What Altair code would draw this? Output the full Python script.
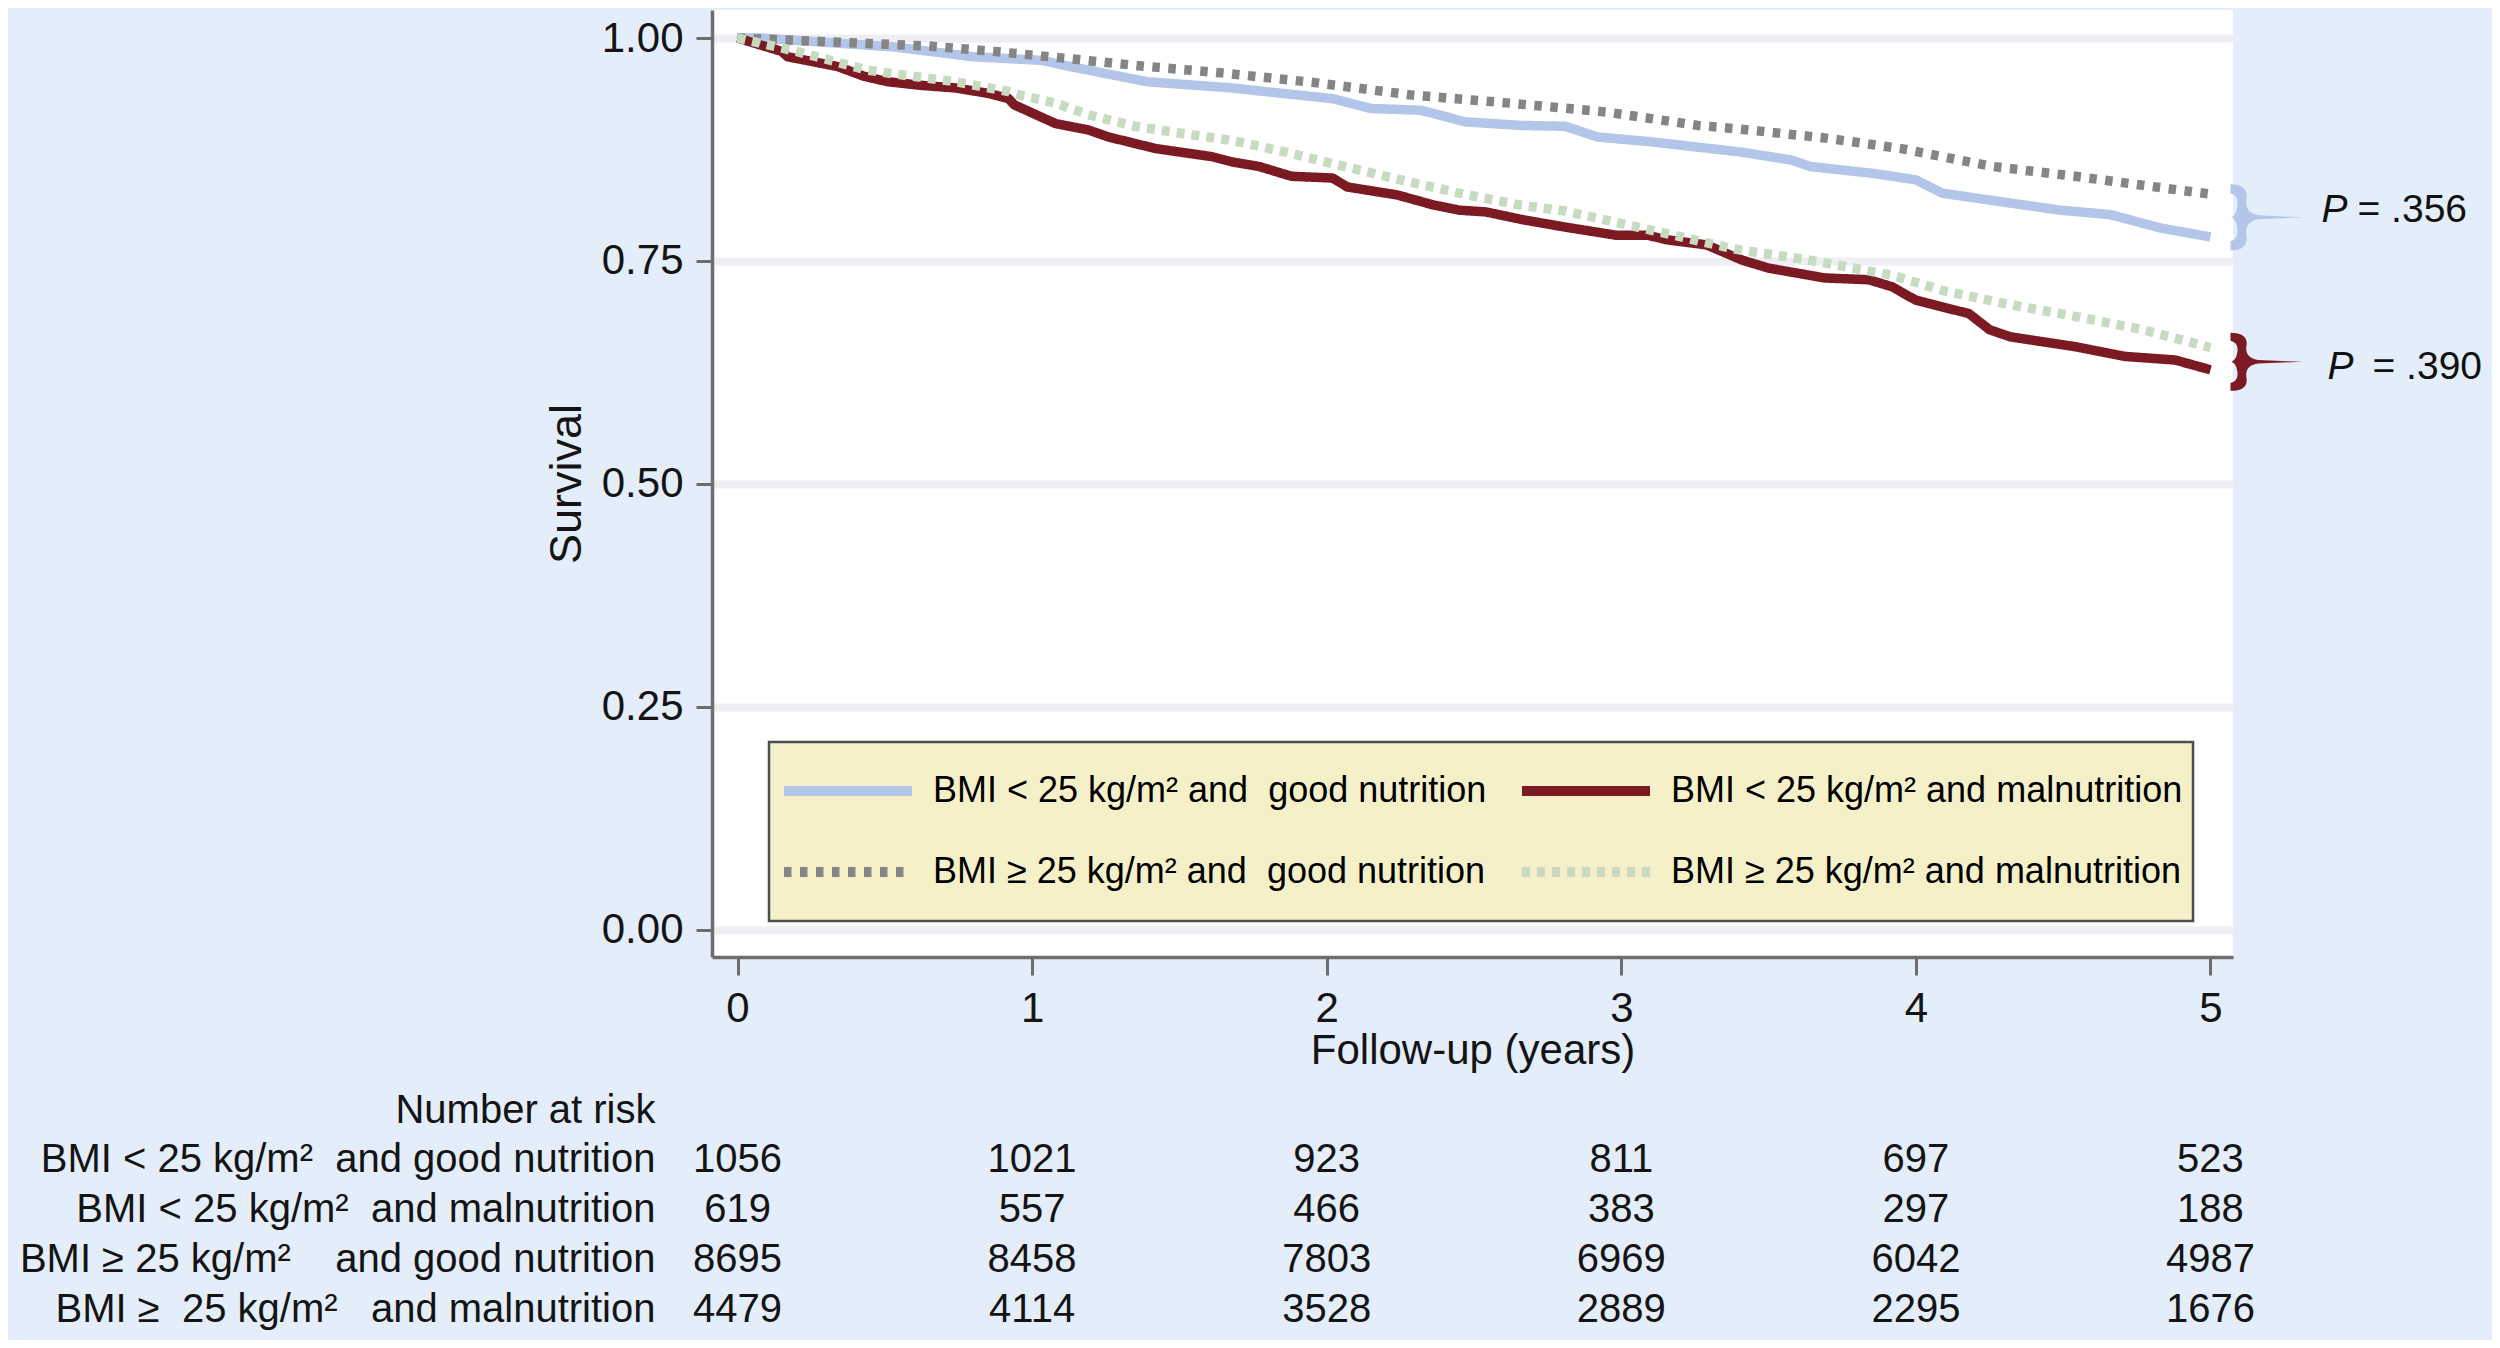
import altair as alt
import pandas as pd

FONT = "Liberation Sans"
NB = "\u00a0"

# ---------------- data ----------------
GROUPS = [
    "BMI < 25 kg/m² and" + NB + NB + "good nutrition",
    "BMI < 25 kg/m² and malnutrition",
    "BMI ≥ 25 kg/m² and" + NB + NB + "good nutrition",
    "BMI ≥ 25 kg/m² and malnutrition",
]
COLORS = ["#B3C5E8", "#7B1A22", "#858585", "#C6DBC0"]
DASHES = [[1, 0], [1, 0], [7.5, 8.5], [8, 7]]

T_BLUE = [0, 0.08, 0.53, 0.80, 1.03, 1.13, 1.39, 1.68, 1.79, 2.02, 2.15, 2.32, 2.47, 2.66,
          2.81, 2.92, 3.09, 3.41, 3.58, 3.64, 3.86, 4.00, 4.09, 4.32, 4.49, 4.66, 4.83, 5.00]
S_BLUE = [1.0, 1.0, 0.990, 0.979, 0.975, 0.968, 0.951, 0.944, 0.940, 0.932, 0.921, 0.919, 0.906, 0.902,
          0.901, 0.889, 0.884, 0.872, 0.863, 0.856, 0.848, 0.841, 0.826, 0.815, 0.807, 0.802, 0.787, 0.777]

T_RED = [0, 0.15, 0.17, 0.34, 0.43, 0.51, 0.62, 0.74, 0.85, 0.92, 0.94, 1.08, 1.19, 1.26, 1.42,
         1.61, 1.68, 1.77, 1.88, 2.02, 2.07, 2.24, 2.36, 2.45, 2.54, 2.67, 2.81, 2.98, 3.09, 3.15,
         3.29, 3.41, 3.50, 3.69, 3.84, 3.92, 4.00, 4.18, 4.25, 4.32, 4.54, 4.71, 4.88, 5.00]
S_RED = [1.0, 0.985, 0.979, 0.968, 0.957, 0.951, 0.947, 0.944, 0.938, 0.932, 0.925, 0.904, 0.897, 0.889, 0.876,
         0.867, 0.861, 0.856, 0.845, 0.843, 0.833, 0.824, 0.813, 0.807, 0.805, 0.796, 0.788, 0.779, 0.779, 0.774,
         0.768, 0.751, 0.742, 0.731, 0.729, 0.721, 0.706, 0.691, 0.673, 0.665, 0.654, 0.643, 0.639, 0.628]

T_GRAY = [0, 0.65, 0.87, 1.09, 1.36, 1.64, 1.96, 2.29, 2.62, 2.95, 3.26, 3.40, 3.69, 3.95, 4.26,
          4.54, 4.79, 5.00]
S_GRAY = [1.0, 0.991, 0.985, 0.978, 0.969, 0.961, 0.950, 0.936, 0.927, 0.917, 0.902, 0.898, 0.888, 0.876, 0.856,
          0.845, 0.834, 0.825]

T_GREEN = [0, 0.20, 0.44, 0.55, 0.74, 0.92, 0.96, 1.08, 1.19, 1.35, 1.51, 1.66, 1.71, 1.90, 2.06,
           2.25, 2.45, 2.65, 2.81, 3.00, 3.15, 3.35, 3.41, 3.64, 3.92, 4.09, 4.32, 4.54, 4.77, 5.00]
S_GREEN = [1.0, 0.985, 0.964, 0.959, 0.951, 0.940, 0.936, 0.927, 0.914, 0.901, 0.893, 0.886, 0.883, 0.869, 0.856,
           0.841, 0.826, 0.813, 0.806, 0.792, 0.781, 0.766, 0.762, 0.751, 0.734, 0.717, 0.701, 0.688, 0.673, 0.653]

RISK_TIMES = [0, 1, 2, 3, 4, 5]
RISK_HEADER = "Number at risk"
RISK_ROWS = [
    "BMI < 25 kg/m²" + NB + NB + "and good nutrition",
    "BMI < 25 kg/m²" + NB + NB + "and malnutrition",
    "BMI ≥ 25 kg/m²" + NB * 4 + "and good nutrition",
    "BMI ≥" + NB + NB + "25 kg/m²" + NB * 3 + "and malnutrition",
]
RISK_N = [
    [1056, 1021, 923, 811, 697, 523],
    [619, 557, 466, 383, 297, 188],
    [8695, 8458, 7803, 6969, 6042, 4987],
    [4479, 4114, 3528, 2889, 2295, 1676],
]

END_T = 5.0
BRACE_S = [0.799, 0.637]          # survival level of the brace tips
P_S = [0.807, 0.631]              # survival level of the P-value labels
P_TEXT = ["= .356", "= .390"]
BRACE_COLORS = ["#B3C5E8", "#7B1A22"]

# ---------------- tables ----------------
curve_rows = []
for g, ts, ss in zip(GROUPS, [T_BLUE, T_RED, T_GRAY, T_GREEN], [S_BLUE, S_RED, S_GRAY, S_GREEN]):
    for t, s in zip(ts, ss):
        curve_rows.append({"group": g, "t": t, "s": s})
curve_df = pd.DataFrame(curve_rows)

risk_rows = []
for r, ns in zip(RISK_ROWS, RISK_N):
    for t, n in zip(RISK_TIMES, ns):
        risk_rows.append({"row": r, "t": t, "n": str(n)})
risk_df = pd.DataFrame(risk_rows)

# ---------------- scales / axes ----------------
X_SCALE = alt.Scale(domain=[-0.0866, 5.0764], nice=False, zero=False)
Y_SCALE = alt.Scale(domain=[-0.0303, 1.0314], nice=False, zero=False)
AX_COL = "#6D6D6D"
TXT_COL = "#141414"
X_AXIS = alt.Axis(values=[0, 1, 2, 3, 4, 5], format="d", title="Follow-up (years)", grid=False,
                  tickSize=18, tickWidth=3, tickColor=AX_COL, domainColor=AX_COL, domainWidth=3.5,
                  labelFontSize=42, labelFont=FONT, labelColor=TXT_COL, labelPadding=13,
                  labelFlush=False, titleFontSize=42, titleFont=FONT, titleColor=TXT_COL,
                  titleFontWeight="normal", titlePadding=1)
Y_AXIS = alt.Axis(values=[0, 0.25, 0.5, 0.75, 1.0], format=".2f", title="Survival", grid=True,
                  gridColor="#EEEFF3", gridWidth=8, tickSize=16, tickWidth=3, tickColor=AX_COL,
                  domainColor=AX_COL, domainWidth=3.5, labelFontSize=42, labelFont=FONT,
                  labelColor=TXT_COL, labelPadding=13, labelFlush=False, titleFontSize=45,
                  titleFont=FONT, titleColor=TXT_COL, titleFontWeight="normal", titlePadding=12)

LEGEND = alt.Legend(title=None, orient="none", legendX=57, legendY=732, columns=2, direction="horizontal",
                    symbolType="stroke", symbolSize=16384, symbolStrokeWidth=10, clipHeight=78,
                    rowPadding=3, columnPadding=30, padding=10, labelOffset=16, labelFontSize=36,
                    labelFont=FONT, labelColor="#000000", labelLimit=2000,
                    fillColor="#F6F0C9", strokeColor="#4D4D4D")

x_enc = alt.X("t:Q", scale=X_SCALE, axis=X_AXIS)
y_enc = alt.Y("s:Q", scale=Y_SCALE, axis=Y_AXIS)

lines = alt.Chart(curve_df).mark_line(strokeWidth=9.5, strokeCap="butt", strokeJoin="round").encode(
    x=x_enc,
    y=y_enc,
    color=alt.Color("group:N", scale=alt.Scale(domain=GROUPS, range=COLORS), legend=LEGEND),
    strokeDash=alt.StrokeDash("group:N", scale=alt.Scale(domain=GROUPS, range=DASHES), legend=LEGEND),
)


def brace_path(k):
    pts = ("M 20 {a} Q 38 {a} 36 {b} Q 34 {c} 48 {d} L 92 0 L 48 {nd} Q 34 {nc} 36 {nb} "
           "Q 38 {na} 20 {na} L 20 {ne} Q 28 {nf} 27 {ng} Q 26 {nh} 21 0 Q 26 {h} 27 {g} "
           "Q 28 {f} 20 {e} Z")
    v = dict(a=-33, b=-18, c=-4, d=-2, e=-24, f=-22, g=-12, h=-2)
    out = {}
    for key, val in v.items():
        out[key] = round(val * k, 2)
        out["n" + key] = round(-val * k, 2)
    return pts.format(**out)


layers = [lines]
for i in range(2):
    bdf = pd.DataFrame({"t": [END_T], "s": [BRACE_S[i]]})
    layers.append(
        alt.Chart(bdf).mark_point(shape=brace_path(1.0 if i == 0 else 0.88), size=4, filled=True,
                                  opacity=1, strokeWidth=0, color=BRACE_COLORS[i]).encode(x=x_enc, y=y_enc)
    )
    pdf = pd.DataFrame({"t": [END_T], "s": [P_S[i]], "txt": [P_TEXT[i]]})
    layers.append(
        alt.Chart(pdf).mark_text(text="P", fontStyle="italic", font=FONT, fontSize=39, align="left",
                                 baseline="middle", dx=111 if i == 0 else 117, color="#111111")
        .encode(x=x_enc, y=y_enc)
    )
    layers.append(
        alt.Chart(pdf).mark_text(font=FONT, fontSize=39, align="left", baseline="middle",
                                 dx=147 if i == 0 else 162, color="#111111")
        .encode(x=x_enc, y=y_enc, text="txt:N")
    )

main = alt.layer(*layers)

table = alt.Chart(risk_df).mark_text(font=FONT, fontSize=40, align="center", baseline="middle",
                                     color=TXT_COL).encode(
    x=x_enc,
    y=alt.Y("row:N",
            scale=alt.Scale(type="point", domain=[RISK_HEADER] + RISK_ROWS, range=[1100, 1299.5], padding=0),
            axis=alt.Axis(orient="left", title=None, domain=False, ticks=False, tickSize=0, grid=False,
                          labelFontSize=40, labelFont=FONT, labelColor=TXT_COL, labelPadding=57,
                          labelLimit=2000)),
    text="n:N",
)

chart = alt.layer(main, table).resolve_scale(y="independent").resolve_axis(y="independent").properties(
    width=1521,
    height=947,
    background="#E4EEFA",
    padding={"left": 704, "top": 2, "right": 259, "bottom": 383},
    autosize=alt.AutoSizeParams(type="none"),
).configure_view(fill="white", strokeWidth=0).configure_legend(strokeWidth=2.5)

chart.save("out.html", embed_options={"renderer": "svg", "actions": False})
